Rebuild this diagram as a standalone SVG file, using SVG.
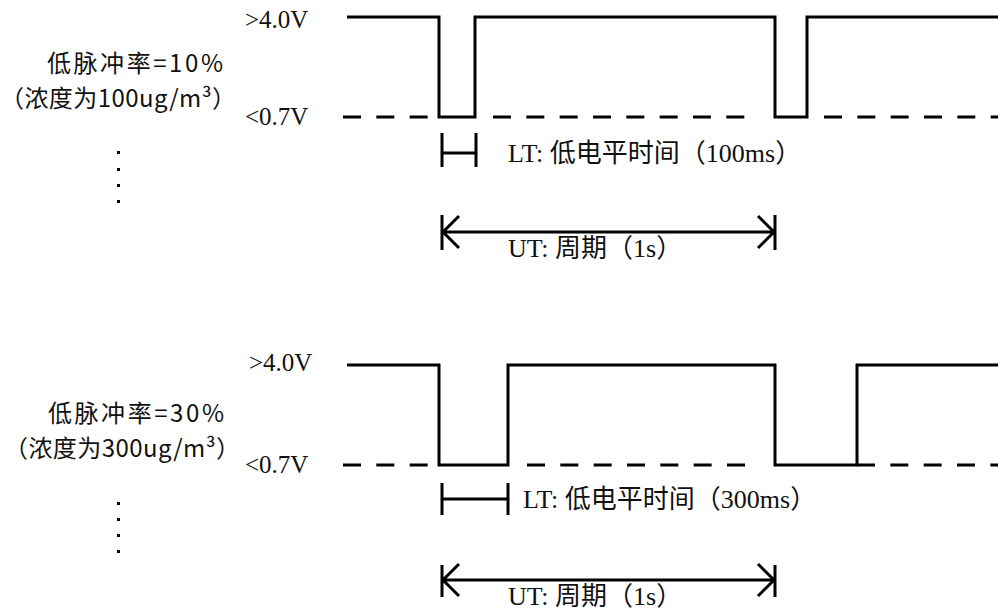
<svg xmlns="http://www.w3.org/2000/svg" width="998" height="612" viewBox="0 0 998 612">
<style>
.wave{fill:none;stroke:#000;stroke-width:3;stroke-linejoin:miter;stroke-linecap:butt}
.dash{fill:none;stroke:#000;stroke-width:3;stroke-dasharray:18 15.33}
.dim{fill:none;stroke:#000;stroke-width:3}
.lv{font-family:"Liberation Serif","Noto Sans CJK SC",serif;font-size:25px;fill:#111}
.lbl{font-family:"Liberation Serif","Noto Sans CJK SC",serif;font-size:26px;fill:#111}
.cn{font-family:"Noto Sans CJK SC","Noto Sans",sans-serif;font-size:24px;fill:#111}
.dot{fill:#000}
</style>
<rect width="998" height="612" fill="#fff"/>

<g id="signal-10">
  <path class="wave" d="M347,17 H439 V117 H475 V17 H775 V117 H807 V17 H998"/>
  <path class="dash" d="M343,117 H430"/>
  <path class="dash" d="M493,117 H750"/>
  <path class="dash" d="M824,117 H998"/>
  <text class="lv" x="245" y="28">&gt;4.0V</text>
  <text class="lv" x="245" y="125">&lt;0.7V</text>
  <text class="cn" x="47" y="72" textLength="176" lengthAdjust="spacing">低脉冲率=10%</text>
  <text class="cn" x="0" y="107" textLength="236" lengthAdjust="spacing">（浓度为100ug/m³）</text>
  <rect class="dot" x="117" y="151" width="3" height="3"/>
  <rect class="dot" x="117" y="168" width="3" height="3"/>
  <rect class="dot" x="117" y="184" width="3" height="3"/>
  <rect class="dot" x="117" y="200" width="3" height="3"/>
</g>

<g id="signal-30">
  <path class="wave" d="M347,365 H439 V465 H508 V365 H775 V465 H857 V365 H998"/>
  <path class="dash" d="M343,465 H430"/>
  <path class="dash" d="M527,465 H750"/>
  <path class="dash" d="M857,465 H998"/>
  <text class="lv" x="249" y="371">&gt;4.0V</text>
  <text class="lv" x="245" y="473">&lt;0.7V</text>
  <text class="cn" x="48" y="422" textLength="176" lengthAdjust="spacing">低脉冲率=30%</text>
  <text class="cn" x="4" y="457" textLength="236" lengthAdjust="spacing">（浓度为300ug/m³）</text>
  <rect class="dot" x="117" y="502" width="3" height="3"/>
  <rect class="dot" x="117" y="518" width="3" height="3"/>
  <rect class="dot" x="117" y="534" width="3" height="3"/>
  <rect class="dot" x="117" y="550" width="3" height="3"/>
</g>

<g id="connectors">
  <g id="lt-10">
    <path class="dim" d="M442,133 V167 M476,133 V167 M442,153 H476"/>
  </g>
  <g id="ut-10">
    <path class="dim" d="M442,215 V250 M775,215 V250 M442,232 H775 M459,216 L443,232 L459,248 M758,216 L774,232 L758,248"/>
  </g>
  <g id="lt-30">
    <path class="dim" d="M442,483 V515 M508,483 V515 M442,499 H508"/>
  </g>
  <g id="ut-30">
    <path class="dim" d="M442,565 V597 M775,565 V597 M442,580 H775 M459,564 L443,580 L459,596 M758,564 L774,580 L758,596"/>
  </g>
</g>

<g id="labels">
  <text class="lbl" x="508" y="162">LT: 低电平时间（100ms）</text>
  <text class="lbl" x="508" y="257">UT: 周期（1s）</text>
  <text class="lbl" x="523" y="508">LT: 低电平时间（300ms）</text>
  <text class="lbl" x="508" y="605">UT: 周期（1s）</text>
</g>
</svg>
